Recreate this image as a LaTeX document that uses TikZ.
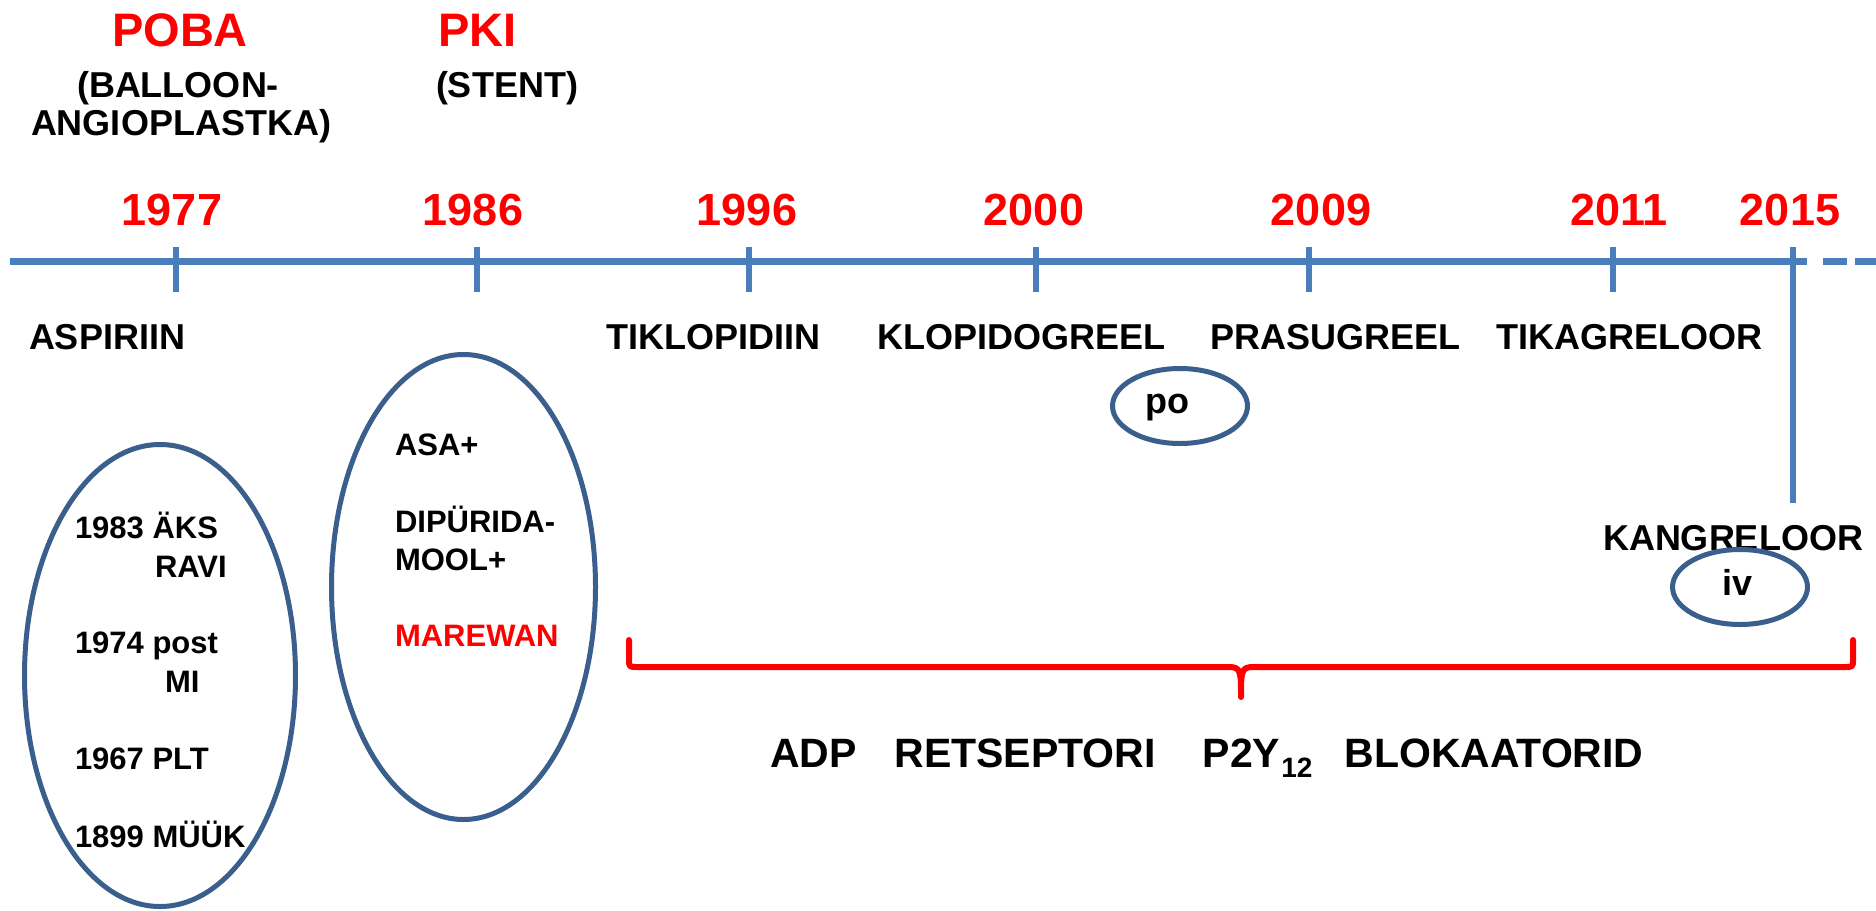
\documentclass[tikz,border=0pt]{standalone}
\usepackage{fontspec}
\setmainfont{Liberation Sans}
\usetikzlibrary{shapes.geometric}
\definecolor{tl}{HTML}{4A7EBB}
\definecolor{ell}{HTML}{3A5F8D}
\definecolor{rd}{HTML}{FF0000}
\newcommand{\fsz}[1]{\fontsize{#1}{#1}\selectfont\bfseries}
\begin{document}
\begin{tikzpicture}[x=1pt,y=-1pt,
  t/.style={inner sep=0pt, outer sep=0pt, anchor=base west},
  big/.style={t, font=\fsz{36}},
  small/.style={t, font=\fsz{31}},
  yr/.style={inner sep=0pt, anchor=base, text=rd, font=\fsz{45}},
  hd/.style={inner sep=0pt, anchor=base, text=rd, font=\fsz{47}},
  axis/.style={tl, line width=7pt},
  tick/.style={tl, line width=6.5pt},
  oval/.style={draw=ell, line width=5pt, ellipse, inner sep=0pt},
  brace/.style={rd, line width=6pt, line cap=round, line join=round}]
\useasboundingbox (0,0) rectangle (1876,910);
\fill[white] (0,0) rectangle (1876,910);

% timeline
\coordinate (a0) at (10,261.5);
\coordinate (a1) at (1807,261.5);
\coordinate (d1a) at (1823,261.5);
\coordinate (d1b) at (1847,261.5);
\coordinate (d2a) at (1855,261.5);
\coordinate (d2b) at (1876,261.5);
\draw[axis] (a0) -- (a1);
\draw[axis] (d1a) -- (d1b);
\draw[axis] (d2a) -- (d2b);
\foreach \x in {176,477,749,1036,1309,1613}{
  \draw[tick] (\x,247) -- (\x,292);
}
\draw[tick] (1793,247) -- (1793,503);

% headers
\node[hd] (poba) at (180,46) {POBA};
\node[hd, anchor=base west] (pki) at (438,46) {PKI};
\node[inner sep=0pt, anchor=base, font=\fsz{36}] (ball) at (178,97) {(BALLOON-};
\node[inner sep=0pt, anchor=base, font=\fsz{36}] (angio) at (181,135) {ANGIOPLASTKA)};
\node[big] (stent) at (436,97) {(STENT)};

% years
\node[yr] (y1977) at (172,225) {1977};
\node[yr] (y1986) at (473,225) {1986};
\node[yr] (y1996) at (747,225) {1996};
\node[yr] (y2000) at (1034,225) {2000};
\node[yr] (y2009) at (1321,225) {2009};
\node[yr] (y2011) at (1619,225) {2011};
\node[yr] (y2015) at (1790,225) {2015};

% drugs
\node[big] (asp) at (29,349) {ASPIRIIN};
\node[big] (tik) at (606,349) {TIKLOPIDIIN};
\node[big] (klo) at (877,349) {KLOPIDOGREEL};
\node[big] (pra) at (1210,349) {PRASUGREEL};
\node[big] (tika) at (1496,349) {TIKAGRELOOR};
\node[big] (kan) at (1603,550) {KANGRELOOR};

% small ovals
\node[oval, minimum width=135pt, minimum height=75pt] (pooval) at (1180,406) {};
\node[big] (po) at (1145,413) {po};
\node[oval, minimum width=135pt, minimum height=75pt] (ivoval) at (1740,587) {};
\node[big] (iv) at (1722,595) {iv};

% big ovals
\node[oval, minimum width=271pt, minimum height=462pt] (leftoval) at (160,675.5) {};
\node[small] (l1) at (75,538) {1983 ÄKS};
\node[small] (l2) at (155,577) {RAVI};
\node[small] (l3) at (75,653) {1974 post};
\node[small] (l4) at (165,692) {MI};
\node[small] (l5) at (75,769) {1967 PLT};
\node[small] (l6) at (75,847) {1899 MÜÜK};

\node[oval, minimum width=264pt, minimum height=465pt] (rightoval) at (463.5,587) {};
\node[small] (r1) at (395,455) {ASA+};
\node[small] (r2) at (395,532) {DIPÜRIDA-};
\node[small] (r3) at (395,570) {MOOL+};
\node[small, text=rd] (r4) at (395,646) {MAREWAN};

% brace
\draw[brace] (629,640) -- (629,659) .. controls (629,667) .. (637,667) -- (1229,667)
  .. controls (1241,667) and (1241,672) .. (1241,697)
  .. controls (1241,672) and (1241,667) .. (1253,667) -- (1845,667)
  .. controls (1853,667) .. (1853,659) -- (1853,640);

\node[t, font=\fsz{41}] (adp) at (770,767) {ADP\hspace{38pt}RETSEPTORI\hspace{47pt}P2Y\hspace{1pt}\raisebox{-10pt}{\fontsize{28}{28}\selectfont 12}\hspace{32pt}BLOKAATORID};
\end{tikzpicture}
\end{document}
